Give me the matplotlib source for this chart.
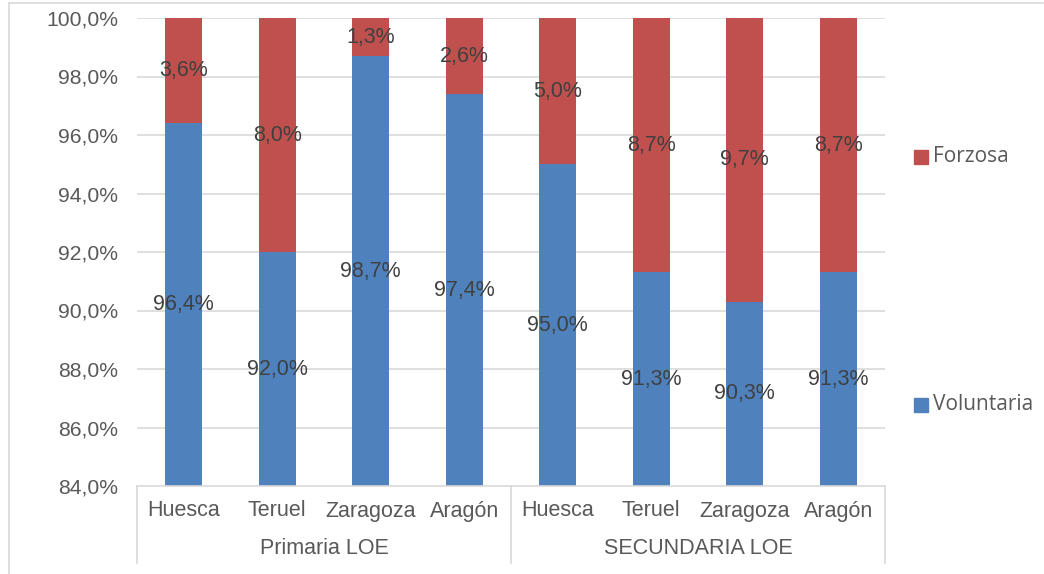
import matplotlib
matplotlib.use("Agg")
import matplotlib.pyplot as plt
from matplotlib.lines import Line2D
from matplotlib.patches import Rectangle
import numpy as np

categories = ["Huesca", "Teruel", "Zaragoza", "Aragón", "Huesca", "Teruel", "Zaragoza", "Aragón"]
groups = ["Primaria LOE", "SECUNDARIA LOE"]
voluntaria = [96.4, 92.0, 98.7, 97.4, 95.0, 91.3, 90.3, 91.3]
forzosa = [3.6, 8.0, 1.3, 2.6, 5.0, 8.7, 9.7, 8.7]
yticks = [84, 86, 88, 90, 92, 94, 96, 98, 100]

BLUE = "#4F81BD"
RED = "#C0504D"
TXT = "#404040"
GRID = "#D9D9D9"
plt.rcParams['font.family'] = ['Liberation Sans', 'DejaVu Sans']

fig = plt.figure(figsize=(10.44, 5.74), dpi=100)
W, H = 1044, 574
ax = fig.add_axes([137/W, 1-486/H, (885-137)/W, (486-18)/H])
x = np.arange(len(categories))
ymin, ymax = 84, 100
ax.bar(x, voluntaria, width=0.4, color=BLUE, zorder=2)
ax.bar(x, forzosa, width=0.4, bottom=voluntaria, color=RED, zorder=2)
ax.set_xlim(-0.5, len(categories)-0.5)
ax.set_ylim(ymin, ymax)
ax.set_yticks(yticks)
ax.set_yticklabels([f"{v:.1f}%".replace(".", ",") for v in yticks], fontsize=15.2, color="#595959")
ax.tick_params(axis='y', length=0, pad=13.5)
ax.tick_params(axis='x', length=0)
ax.set_xticks([])
for y in yticks[1:]:
    ax.axhline(y, color=GRID, lw=1.2, zorder=1)
for s in ["top", "right", "left"]:
    ax.spines[s].set_visible(False)
ax.spines["bottom"].set_color(GRID)
ax.spines["bottom"].set_linewidth(1.2)

for i, (v, f) in enumerate(zip(voluntaria, forzosa)):
    ax.text(i, (ymin + v)/2, f"{v:.1f}%".replace(".", ","), ha="center", va="center", fontsize=15.5, color=TXT, zorder=3)
    ax.text(i, v + f/2, f"{f:.1f}%".replace(".", ","), ha="center", va="center", fontsize=15.5, color=TXT, zorder=3)

# category labels
for i, c in enumerate(categories):
    fig.text((137 + (i+0.5)*(885-137)/8)/W, 1-511/H, c, ha="center", va="center", fontsize=15.5, color="#595959")
for j, g in enumerate(groups):
    fig.text((137 + (j*4+2)*(885-137)/8)/W, 1-549/H, g, ha="center", va="center", fontsize=15.5, color="#595959")
for xp in [137, 511, 885]:
    fig.add_artist(Line2D([xp/W, xp/W], [1-486/H, 1-563/H], color=GRID, lw=1.2))

# outer frame
fig.add_artist(Line2D([8.5/W, 8.5/W], [0, 1-3/H], color=GRID, lw=1.2))
fig.add_artist(Line2D([8.5/W, 1043/W], [1-3/H, 1-3/H], color=GRID, lw=1.2))

# legend
for lab, col, yp in [("Forzosa", RED, 157), ("Voluntaria", BLUE, 405)]:
    fig.add_artist(Rectangle(((914)/W, 1-(yp+7)/H), 14/W, 14/H, color=col))
    fig.text(933/W, 1-yp/H, lab, ha="left", va="center", fontsize=15, color="#595959", family=["Open Sans", "DejaVu Sans"])

fig.savefig("out.png", dpi=100)
